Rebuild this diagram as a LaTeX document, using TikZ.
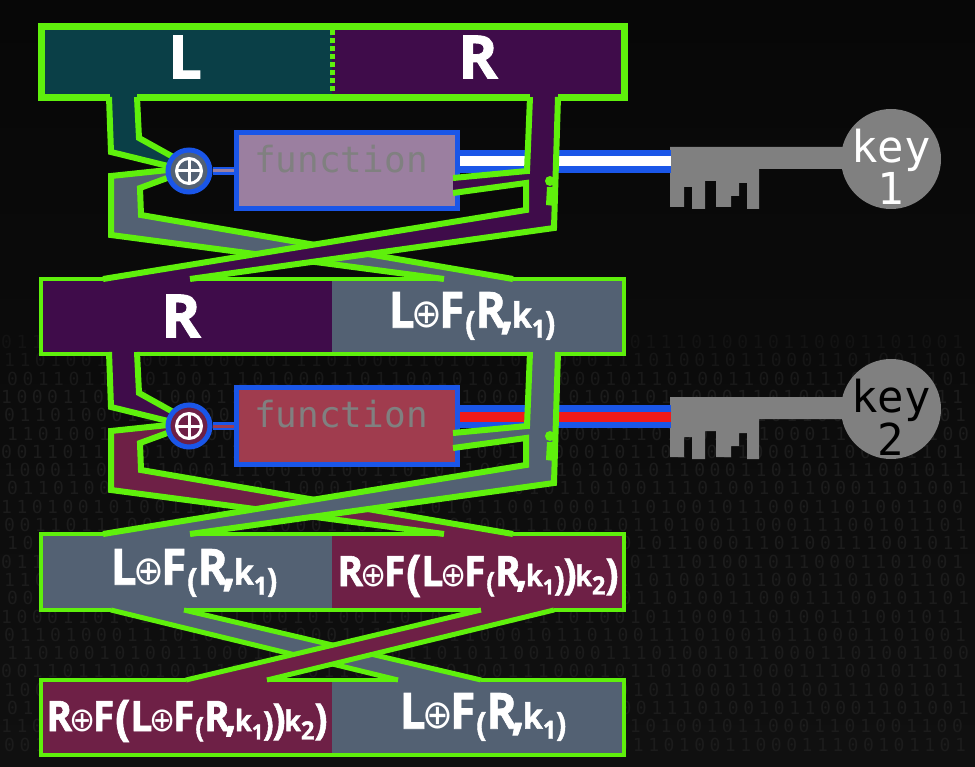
\documentclass[tikz,border=0pt]{standalone}
\usepackage{fontspec}
\usepackage{graphicx}
\setmainfont[BoldFeatures={FakeBold=1.4}]{Open Sans}
\newfontfamily\xorfont{DejaVu Sans}
\newfontfamily\fnfont{DejaVu Sans Mono}
\newfontfamily\bitfont[LetterSpace=25]{DejaVu Sans Mono}
\usepackage{tikz}
\definecolor{wire}{HTML}{5FF00C}
\definecolor{tealblk}{HTML}{0A3F47}
\definecolor{plumblk}{HTML}{3F0C4A}
\definecolor{slateblk}{HTML}{536173}
\definecolor{wineblk}{HTML}{6E2046}
\definecolor{mauvefn}{HTML}{9B7FA0}
\definecolor{redfn}{HTML}{A03C4E}
\definecolor{fnblue}{HTML}{1A56E8}
\definecolor{keygray}{HTML}{808080}
\definecolor{stripered}{HTML}{F01A1A}
\definecolor{bgtop}{HTML}{070707}
\definecolor{bgbot}{HTML}{101010}
\definecolor{bitgray}{HTML}{1C1C1C}
\tikzset{
	rim/.style={draw=wire, line width=6pt, line join=miter},
	thinrim/.style={draw=wire, line width=4.5pt, line join=miter},
	swaprim/.style={draw=wire, line width=5pt, line join=miter},
	funcbox/.style={draw=fnblue, line width=5pt, minimum width=221pt, minimum height=76pt, inner sep=0pt},
	fnlabel/.style={text=keygray, font=\fnfont\fontsize{36}{36}\selectfont, inner sep=0pt},
	xorgate/.style={circle, draw=fnblue, line width=5pt, minimum size=42pt, inner sep=0pt},
	xorcross/.style={draw=white, line width=3pt},
	bow/.style={circle, fill=keygray, minimum size=100pt, inner sep=0pt},
	keylabel/.style={font=\fnfont\fontsize{44}{40}\selectfont, align=center, inner sep=0pt},
	biglabel/.style={text=white, font=\bfseries\fontsize{60}{60}\selectfont, inner sep=0pt},
	halflabel/.style={text=white, font=\bfseries\fontsize{50}{50}\selectfont, inner sep=0pt},
	longlabel/.style={text=white, font=\bfseries\fontsize{42}{42}\selectfont, inner sep=0pt},
}
\newcommand{\xorsign}{\kern-.07em{\xorfont\mdseries\scalebox{.8}{⊕}}\kern-.07em}
\newcommand{\innerpair}{\raisebox{-.14em}{\scalebox{.66}{(}}R\kern-.12em,\kern-.04em\scalebox{.7}{k}\raisebox{-.2em}{\scalebox{.5}{1}}}
\newcommand{\halfkey}{\scalebox{.92}[1]{L\xorsign F\kern.02em\innerpair\raisebox{-.14em}{\scalebox{.66}{)}}}}
\newcommand{\fullkey}{\scalebox{.93}[1]{R\xorsign F\kern.02em\raisebox{-.08em}{\scalebox{1.15}{(}}L\xorsign F\kern.02em\innerpair\raisebox{-.1em}{\scalebox{.8}{)}}\kern-.03em\raisebox{-.06em}{\scalebox{1.0}{)}}\kern-.03em\scalebox{.68}{k}\raisebox{-.2em}{\scalebox{.6}{2}}\raisebox{-.06em}{\scalebox{1.0}{)}}}}
\newcommand{\bitsa}{011010001110100101100011101001100010110100111010010110001101001}
\newcommand{\bitsb}{100011010110001110010100110101100011101001011000110100111001011}
\newcommand{\bitsc}{001101110010011101000110110010100111000101101001100011100101101}
\newcommand{\bitsd}{110100101001100010111010001101011001000111010010110001101001100}
\begin{document}
\begin{tikzpicture}[x=1pt, y=-1pt]
	\useasboundingbox (0,0) rectangle (975,767);
	\shade[top color=bgtop, bottom color=bgbot] (0,0) rectangle (975,767);
	\foreach \r in {0,...,22}{
		\pgfmathsetmacro{\ypos}{342+18.3*\r}
		\pgfmathtruncatemacro{\shadeval}{min(100,25+25*\r)}
		\pgfmathtruncatemacro{\pick}{mod(\r*3,4)}
		\pgfmathsetmacro{\xpos}{1+3*mod(\r,3)}
		\node[anchor=west, inner sep=0pt, text=bitgray!\shadeval!bgbot, font=\bitfont\fontsize{18}{18}\selectfont]
			(bits\r) at (\xpos,\ypos) {\ifcase\pick\relax\bitsa\or\bitsb\or\bitsc\or\bitsd\fi};
	}
	% blocks
	\fill[tealblk] (41,27) rectangle (332,98);
	\fill[plumblk] (332,27) rectangle (624,98);
	\fill[plumblk] (41,279) rectangle (332,354);
	\fill[slateblk] (332,279) rectangle (624,354);
	\fill[slateblk] (41,534) rectangle (332,610);
	\fill[wineblk] (332,534) rectangle (624,610);
	\fill[wineblk] (41,680) rectangle (332,755);
	\fill[slateblk] (332,680) rectangle (624,755);
	% two rounds
	\foreach \n/\dy/\ky/\incol/\crosscol/\lowcol/\fncol/\stripecol/\inkcol in
		{1/0/0/tealblk/plumblk/slateblk/mauvefn/white/white,
		 2/255/250/plumblk/slateblk/wineblk/redfn/stripered/black}{
	\begin{scope}[shift={(0,\ky)}]
		\node[bow] (bow\n) at (891,159) {};
		\fill[keygray] (670,147)--(670,207)--(684,207)--(684,187)--(692,187)--(692,209)--(705,209)--(705,181)--(716,181)--(716,207)--(731,207)--(731,196)--(739,196)--(739,183)--(747,183)--(747,209)--(759,209)--(759,169)--(845,169)--(845,147)--cycle;
		\node[keylabel, text=\inkcol] (keytext\n) at (891,167) {key\\\n};
	\end{scope}
	\begin{scope}[shift={(0,\dy)}]
		\coordinate (plugin\n) at (458,161.5);
		\coordinate (plugout\n) at (671,161.5);
		\draw[fnblue, line width=23pt] (plugin\n)--(plugout\n);
		\draw[\stripecol, line width=10pt] (plugin\n)--(plugout\n);
		\node[funcbox, fill=\fncol] (func\n) at (347,171) {};
		\node[fnlabel] (fname\n) at (341,159) {function};
		\fill[\incol] (110,98)--(111,152)--(172,168)--(172,157)--(139,138)--(137,98)--cycle;
		\draw[rim] (109,97)--(111,152)--(168,166);
		\draw[rim] (137,97)--(139,138)--(175,158);
		\fill[\lowcol] (170,170)--(111,175)--(111,235)--(444,279)--(513,279)--(141,215)--(140,188)--(170,178)--cycle;
		\draw[rim] (168,170)--(111,176)--(111,235)--(444,279);
		\draw[rim] (170,177)--(140,188)--(141,215)--(513,279);
		\fill[\crosscol] (530,98)--(527,170)--(453,176)--(453,192)--(526,183)--(526,210)--(103,279)--(190,279)--(554,228)--(558,98)--cycle;
		\draw[rim] (530,97)--(527,171)--(453,178);
		\draw[rim] (453,193)--(526,183)--(526,210)--(103,279);
		\draw[rim] (558,97)--(554,228)--(190,279);
		\fill[wire] (550,181) circle (5pt);
		\fill[wire] (547,187)--(555,187)--(555,206)--(546,205)--cycle;
		\node[xorgate, fill=\lowcol] (xor\n) at (189,171) {};
		\draw[fnblue, line width=8pt] (xor\n)--(func\n);
		\draw[\fncol, line width=3pt] (xor\n)--(func\n);
		\draw[xorcross] (xor\n) circle (12.5pt);
		\draw[xorcross] (xor\n) ++(-12.5,0)--++(25,0) (xor\n) ++(0,-12.5)--++(0,25);
	\end{scope}
	}
	% last swap
	\fill[slateblk] (111,610)--(184,610)--(481,680)--(398,680)--cycle;
	\draw[swaprim] (111,610)--(398,680);
	\draw[swaprim] (184,610)--(481,680);
	\fill[wineblk] (481,610)--(554,610)--(267,680)--(186,680)--cycle;
	\draw[swaprim] (481,610)--(186,680);
	\draw[swaprim] (554,610)--(267,680);
	% outlines
	\draw[rim, line width=7pt] (110,98)--(41,98)--(41,27)--(624,27)--(624,98)--(558,98);
	\draw[rim, line width=7pt] (137,98)--(530,98);
	\draw[rim, dash pattern=on 5pt off 3pt, line width=5pt] (332,30)--(332,96);
	\draw[thinrim] (103,279)--(41,279)--(41,354)--(109,354);
	\draw[thinrim] (137,354)--(530,354);
	\draw[thinrim] (558,354)--(624,354)--(624,279)--(513,279);
	\draw[thinrim] (190,279)--(444,279);
	\draw[thinrim] (103,534)--(41,534)--(41,610)--(111,610);
	\draw[thinrim] (184,610)--(481,610);
	\draw[thinrim] (554,610)--(624,610)--(624,534)--(513,534);
	\draw[thinrim] (190,534)--(444,534);
	\draw[thinrim] (186,680)--(41,680)--(41,755)--(624,755)--(624,680)--(481,680);
	\draw[thinrim] (267,680)--(398,680);
	% labels
	\node[biglabel] (leftA) at (185,57) {L};
	\node[biglabel] (rightA) at (478,57) {R};
	\node[biglabel] (leftB) at (181,316) {R};
	\node[halflabel] (rightB) at (472,316) {\halfkey};
	\node[halflabel] (leftC) at (194,573) {\halfkey};
	\node[longlabel] (rightC) at (478,576) {\fullkey};
	\node[longlabel] (leftD) at (187,721) {\fullkey};
	\node[halflabel] (rightD) at (483,717) {\halfkey};
\end{tikzpicture}
\end{document}
